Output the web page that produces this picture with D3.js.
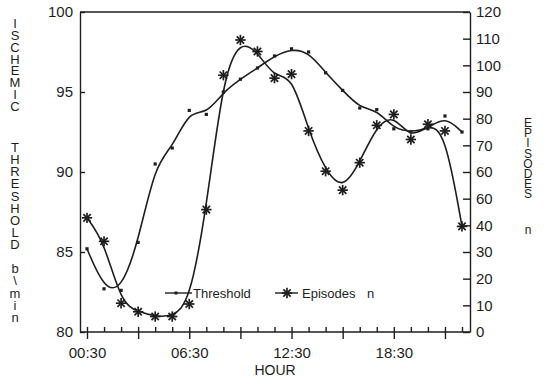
<!DOCTYPE html>
<html>
<head>
<meta charset="utf-8">
<script src="https://cdn.jsdelivr.net/npm/d3@7"></script>
<style>
  body { margin: 0; background: #fff; }
  svg text { font-family: "Liberation Sans", Arial, sans-serif; fill: #1e1e1e; }
  svg text.upright { writing-mode: vertical-lr; text-orientation: upright; }
</style>
</head>
<body>
<div class="chart"></div>
<script>
// chart size
const svgWidth = 548;
const svgHeight = 378;

// plot box edges
const box = { left: 80, right: 470, top: 12, bottom: 332 };

// data
const hours = ["00:30", "01:30", "02:30", "03:30", "04:30", "05:30", "06:30", "07:30",
  "08:30", "09:30", "10:30", "11:30", "12:30", "13:30", "14:30", "15:30", "16:30",
  "17:30", "18:30", "19:30", "20:30", "21:30", "22:30"];
const threshold = [85.2, 82.7, 82.6, 85.6, 90.5, 91.5, 93.85, 93.6, 95.0, 95.8, 96.5,
  97.25, 97.7, 97.5, 96.2, 95.1, 94.0, 93.9, 92.7, 92.5, 92.7, 93.5, 92.5];
const episodes = [42.8, 34.0, 10.8, 7.6, 5.8, 5.8, 10.5, 45.9, 96.3, 109.5, 105.2,
  95.2, 96.7, 75.4, 60.3, 53.2, 63.5, 77.5, 81.6, 72.2, 77.9, 75.4, 39.6];

// tick labels
const xTickLabels = ["00:30", "06:30", "12:30", "18:30"];
const leftTicks = [80, 85, 90, 95, 100];
const rightTicks = [0, 10, 20, 30, 40, 50, 60, 70, 80, 90, 100, 110, 120];
const rightTickLabels = ["0", "10", "20", "30", "40", "60", "60", "70", "80", "90", "100", "110", "120"];

const toHour = s => +s.slice(0, 2) + (+s.slice(3)) / 60;

const svg = d3.select(".chart")
  .append("svg")
  .attr("width", svgWidth)
  .attr("height", svgHeight);

// scales
const xScale = d3.scaleLinear()
  .domain([0.5, 22.5])
  .range([87, 462]);

const yLeft = d3.scaleLinear()
  .domain([80, 100])
  .range([box.bottom, box.top]);

const yRight = d3.scaleLinear()
  .domain([0, 120])
  .range([box.bottom, box.top]);

const ink = "#1e1e1e";

// frame top line
svg.append("line")
  .attr("x1", box.left).attr("x2", box.right)
  .attr("y1", box.top).attr("y2", box.top)
  .attr("stroke", ink).attr("stroke-width", 1.5);

// left axis
svg.append("g")
  .attr("transform", `translate(${box.left},0)`)
  .call(d3.axisLeft(yLeft).tickValues(leftTicks).tickSizeInner(-5).tickSizeOuter(0).tickPadding(7));

// right axis
svg.append("g")
  .attr("transform", `translate(${box.right},0)`)
  .call(d3.axisRight(yRight).tickValues(rightTicks).tickSizeInner(-7).tickSizeOuter(0)
    .tickPadding(6).tickFormat((d, i) => rightTickLabels[i]));

// bottom axis: minor ticks every hour, above the line
const minorAxis = svg.append("g")
  .attr("transform", `translate(0,${box.bottom})`)
  .call(d3.axisBottom(xScale).tickValues(hours.map(toHour)).tickSizeInner(-5)
    .tickSizeOuter(0).tickFormat(""));
minorAxis.select(".domain").remove();

// bottom axis: major ticks every 3 hours, below the line
const majorAxis = svg.append("g")
  .attr("transform", `translate(0,${box.bottom})`)
  .call(d3.axisBottom(xScale).tickValues(d3.range(0.5, 23, 3)).tickSizeInner(7)
    .tickSizeOuter(0).tickPadding(8)
    .tickFormat(d => {
      const lab = hours[Math.round(d - 0.5)];
      return xTickLabels.includes(lab) ? lab : "";
    }));
majorAxis.select(".domain").remove();

svg.append("line")
  .attr("x1", box.left).attr("x2", box.right)
  .attr("y1", box.bottom).attr("y2", box.bottom)
  .attr("stroke", ink).attr("stroke-width", 1.5);

svg.selectAll(".domain, .tick line")
  .attr("stroke", ink).attr("stroke-width", 1.4);
svg.selectAll(".tick text")
  .attr("font-size", 15)
  .attr("font-family", null)
  .attr("fill", ink);

// axis title
svg.append("text")
  .attr("x", 275).attr("y", 375)
  .attr("text-anchor", "middle")
  .attr("font-size", 14)
  .attr("fill", ink)
  .text("HOUR");

// stacked vertical titles, upright letters in vertical writing mode
function stack(word, x, yTop, step, size) {
  svg.append("text")
    .attr("class", "upright")
    .attr("x", x)
    .attr("y", yTop)
    .attr("font-size", size)
    .attr("fill", ink)
    .style("letter-spacing", `${step - size * 1.149}px`)
    .text(word);
}
stack("ISCHEMIC", 15, 16, 11.8, 13);
stack("THRESHOLD", 15, 140, 12.1, 13);
stack("b\\min", 15, 261, 12.2, 13);
stack("EPISODES", 528, 116, 10, 12);
stack("n", 528, 223, 10, 12);

// line generators
const thresholdLine = d3.line()
  .x((d, i) => xScale(toHour(hours[i])))
  .y(d => yLeft(d))
  .curve(d3.curveBasis);

const episodesLine = d3.line()
  .x((d, i) => xScale(toHour(hours[i])))
  .y(d => yRight(d))
  .curve(d3.curveBasis);

svg.append("path")
  .attr("d", thresholdLine(threshold))
  .attr("fill", "none")
  .attr("stroke", ink)
  .attr("stroke-width", 1.6);

svg.append("path")
  .attr("d", episodesLine(episodes))
  .attr("fill", "none")
  .attr("stroke", ink)
  .attr("stroke-width", 1.6);

// markers
const star = (g, r) => {
  [0, 45, 90, 135].forEach(a => {
    const rad = a * Math.PI / 180;
    g.append("line")
      .attr("x1", -r * Math.cos(rad)).attr("y1", -r * Math.sin(rad))
      .attr("x2", r * Math.cos(rad)).attr("y2", r * Math.sin(rad))
      .attr("stroke", ink).attr("stroke-width", 1.7);
  });
};

svg.selectAll(".thr")
  .data(threshold)
  .enter()
  .append("rect")
  .attr("class", "thr")
  .attr("x", (d, i) => xScale(toHour(hours[i])) - 1.6)
  .attr("y", d => yLeft(d) - 1.6)
  .attr("width", 3.2)
  .attr("height", 3.2)
  .attr("fill", ink);

svg.selectAll(".epi")
  .data(episodes)
  .enter()
  .append("g")
  .attr("class", "epi")
  .attr("transform", (d, i) => `translate(${xScale(toHour(hours[i]))},${yRight(d)})`)
  .each(function() { star(d3.select(this), 5.2); });

// legend
const legend = svg.append("g");
legend.append("line")
  .attr("x1", 165).attr("x2", 192).attr("y1", 293).attr("y2", 293)
  .attr("stroke", ink).attr("stroke-width", 1.4);
legend.append("rect")
  .attr("x", 174.5).attr("y", 291.5).attr("width", 3).attr("height", 3).attr("fill", ink);
legend.append("text")
  .attr("x", 193).attr("y", 298)
  .attr("font-size", 13)
  .attr("fill", ink)
  .text("Threshold");

legend.append("line")
  .attr("x1", 275).attr("x2", 298).attr("y1", 293).attr("y2", 293)
  .attr("stroke", ink).attr("stroke-width", 1.4);
star(legend.append("g").attr("transform", "translate(287,293)"), 5.2);
legend.append("text")
  .attr("x", 302).attr("y", 298)
  .attr("font-size", 13)
  .attr("fill", ink)
  .text("Episodes");
legend.append("text")
  .attr("x", 367).attr("y", 298)
  .attr("font-size", 13)
  .attr("fill", ink)
  .text("n");
</script>
</body>
</html>
